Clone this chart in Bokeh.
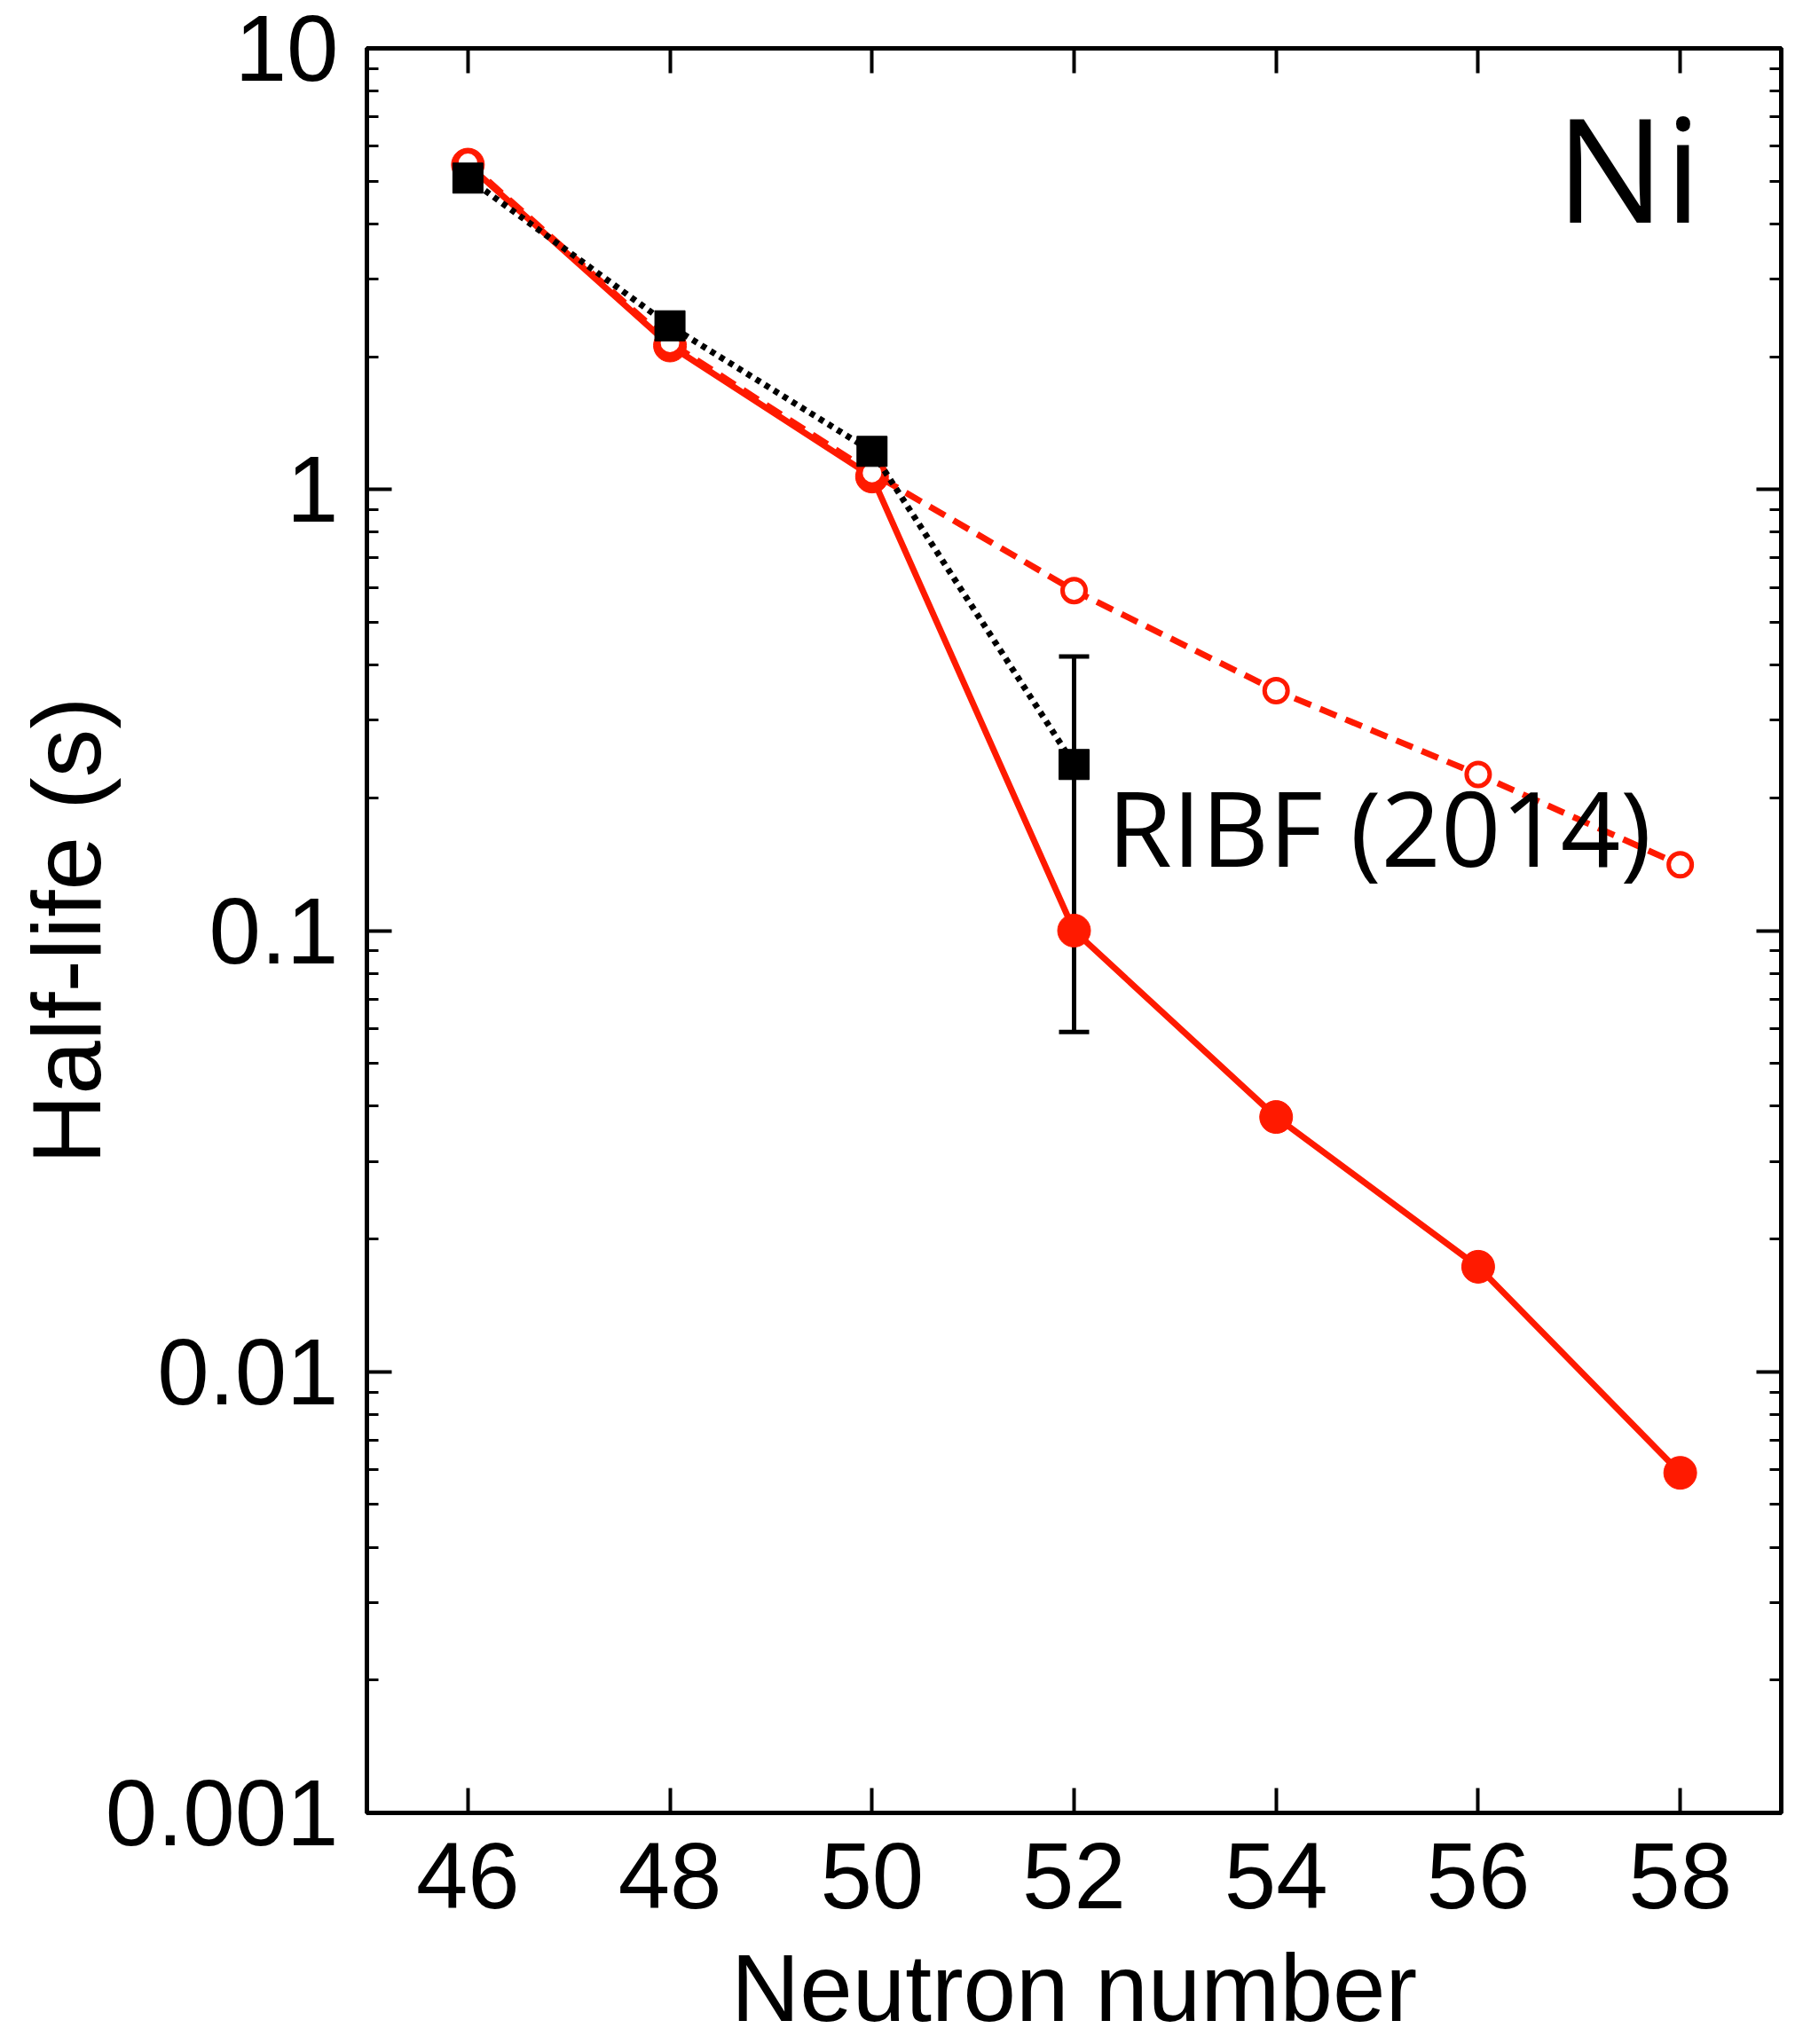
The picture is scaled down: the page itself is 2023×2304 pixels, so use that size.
from bokeh.plotting import figure
from bokeh.models import (FixedTicker, LinearAxis, LogAxis, CustomJSTickFormatter,
                          Whisker, ColumnDataSource, Label, TeeHead)
from bokeh.embed import file_html
from bokeh.resources import INLINE

# ---- data ----
neutron = [46, 48, 50, 52, 54, 56, 58]
calc_solid = [5.45, 2.12, 1.07, 0.100, 0.0378, 0.0173, 0.0059]
calc_dashed = [5.50, 2.15, 1.09, 0.59, 0.35, 0.226, 0.141]
exp_n = [46, 48, 50, 52]
exp_t = [5.08, 2.35, 1.22, 0.238]
err_n = [52]
err_upper = [0.418]
err_lower = [0.0589]

x_ticks = [46, 48, 50, 52, 54, 56, 58]
y_ticks = [0.001, 0.01, 0.1, 1, 10]
y_minor = [k * 10.0 ** d for d in range(-3, 1) for k in range(2, 10)]

RED = "#ff1a00"
LW = 5

p = figure(width=2023, height=2304, x_range=(45, 59), y_range=(0.001, 10),
           y_axis_type="log", output_backend="svg", toolbar_location=None,
           min_border_left=413, min_border_right=16, min_border_top=54,
           min_border_bottom=261)
p.background_fill_color = "white"
p.border_fill_color = "white"
p.xgrid.visible = False
p.ygrid.visible = False
p.outline_line_color = "black"
p.outline_line_width = LW

xt = FixedTicker(ticks=x_ticks, minor_ticks=[])
yt = FixedTicker(ticks=y_ticks, minor_ticks=y_minor)
yfmt = CustomJSTickFormatter(code="return tick.toString();")
blank = CustomJSTickFormatter(code="return '';")

def style(ax, labels=True):
    ax.axis_line_width = LW
    ax.axis_line_color = "black"
    ax.major_tick_in = 28
    ax.major_tick_out = 0
    ax.minor_tick_in = 13
    ax.minor_tick_out = 0
    ax.major_tick_line_width = 4
    ax.minor_tick_line_width = 3
    ax.major_tick_line_color = "black"
    ax.minor_tick_line_color = "black"
    if labels:
        ax.major_label_text_font = "Liberation Sans"
        ax.major_label_text_font_size = "105px"
        ax.major_label_text_color = "black"
        ax.axis_label_text_font = "Liberation Sans"
        ax.axis_label_text_font_size = "107px"
        ax.axis_label_text_font_style = "normal"
        ax.axis_label_text_color = "black"
    else:
        ax.formatter = blank
        ax.major_label_standoff = 0

xa = p.xaxis[0]
xa.ticker = xt
style(xa)
xa.major_label_standoff = 34
xa.axis_label = "Neutron number"
xa.axis_label_standoff = 27

ya = p.yaxis[0]
ya.ticker = yt
ya.formatter = yfmt
style(ya)
ya.major_label_standoff = 32
ya.axis_label = "Half-life (s)"
ya.axis_label_text_font_size = "109px"
ya.axis_label_standoff = -20

top = LinearAxis(ticker=xt)
style(top, labels=False)
p.add_layout(top, "above")
right = LogAxis(ticker=yt)
style(right, labels=False)
p.add_layout(right, "right")

# solid red (calculation)
p.line(neutron, calc_solid, line_color=RED, line_width=7)
p.scatter(neutron, calc_solid, marker="circle", size=37, fill_color=RED, line_color=RED)

# dashed red (calculation, open circles)
p.line(neutron, calc_dashed, line_color=RED, line_width=7, line_dash="20 11")
p.scatter(neutron, calc_dashed, marker="circle", size=26, fill_color="white",
          line_color=RED, line_width=5)

# experiment (RIBF 2014)
src = ColumnDataSource(dict(base=err_n, upper=err_upper, lower=err_lower))
p.add_layout(Whisker(base="base", upper="upper", lower="lower", source=src,
                     line_width=5, line_color="black",
                     upper_head=TeeHead(size=34, line_width=5, line_color="black"),
                     lower_head=TeeHead(size=34, line_width=5, line_color="black")))
p.line(exp_n, exp_t, line_color="black", line_width=7, line_dash="6 6")
p.scatter(exp_n, exp_t, marker="square", size=34, fill_color="black", line_color="black")

p.add_layout(Label(x=52.33, y=0.172, text="RIBF (2014)", text_font="Open Sans",
                   text_font_size="118px", text_color="black",
                   text_baseline="alphabetic", text_align="left"))
p.add_layout(Label(x=56.77, y=5.4, text="Ni", text_font="Open Sans",
                   text_font_size="163px", text_color="black",
                   text_baseline="alphabetic", text_align="left"))

open("out.html", "w").write(file_html(p, INLINE))
